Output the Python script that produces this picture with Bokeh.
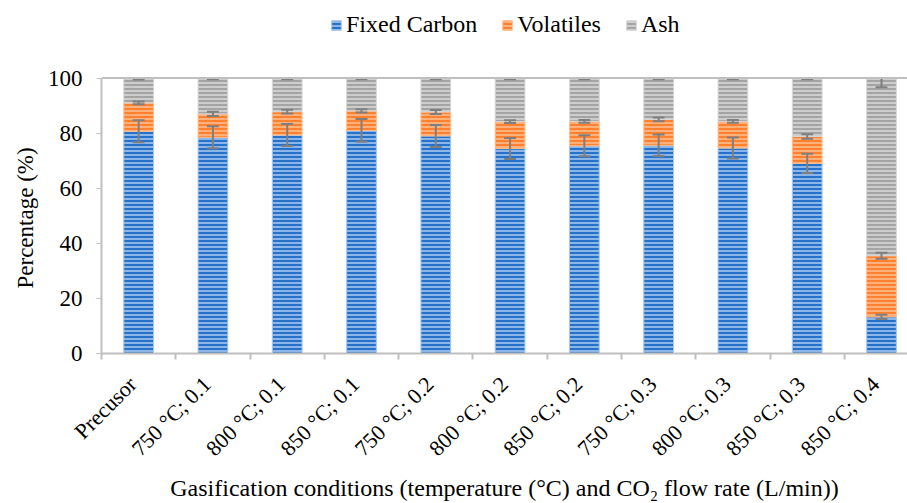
from bokeh.plotting import figure
from bokeh.models import ColumnDataSource, FixedTicker, Legend, LegendItem, Span, Range1d, Title
from bokeh.embed import file_html
from bokeh.resources import INLINE

# Proximate composition of the precursor and the gasified chars (wt.%)
conditions = ["Precusor", "750 °C; 0.1", "800 °C; 0.1", "850 °C; 0.1",
              "750 °C; 0.2", "800 °C; 0.2", "850 °C; 0.2",
              "750 °C; 0.3", "800 °C; 0.3", "850 °C; 0.3", "850 °C; 0.4"]
fixed_carbon = [80.7, 78.5, 79.3, 81.0, 79.0, 74.4, 75.4, 75.6, 74.6, 69.0, 13.3]
volatiles = [10.3, 8.5, 8.5, 7.1, 8.7, 9.8, 8.9, 9.4, 9.7, 9.8, 22.2]
ash = [9.0, 13.0, 12.2, 11.9, 12.3, 15.8, 15.7, 15.0, 15.7, 21.2, 64.5]
fixed_carbon_err = [4.0, 4.0, 4.0, 4.1, 4.0, 3.8, 3.8, 3.9, 3.8, 3.5, 0.8]
volatiles_err = [0.5, 0.8, 0.7, 0.6, 0.7, 0.5, 0.5, 0.7, 0.5, 0.8, 1.1]
ash_err = [0.5, 0.4, 0.4, 0.4, 0.4, 0.4, 0.4, 0.4, 0.4, 0.4, 3.3]
y_ticks = [0, 20, 40, 60, 80, 100]

FONT = "Liberation Serif"
AXIS_GREY = "#BFBFBF"
ERR_GREY = "#7F7F7F"
Y_MAX = 100          # top of the value axis
Y_VIEW = 126.35      # extra head-room inside the frame that holds the legend

x = list(range(len(conditions)))
fc_top = list(fixed_carbon)
vol_top = [f + v for f, v in zip(fixed_carbon, volatiles)]
ash_top = [t + a for t, a in zip(vol_top, ash)]

src = ColumnDataSource(dict(
    x=x, fc_bottom=[0] * len(x), fc_top=fc_top,
    vol_top=vol_top, ash_top=ash_top,
))

p = figure(width=907, height=503, output_backend="svg", toolbar_location=None,
           x_range=Range1d(-0.5, 10.35), y_range=Range1d(0, Y_VIEW),
           min_border_left=101, min_border_right=0, min_border_top=5,
           min_border_bottom=148, outline_line_color=None,
           background_fill_color="white", border_fill_color="white")

bar_w = 0.40
series = [
    ("Fixed Carbon", "fc_bottom", "fc_top", "#2672CB", "#A6C8EF"),
    ("Volatiles", "fc_top", "vol_top", "#FF8130", "#FFBE8E"),
    ("Ash", "vol_top", "ash_top", "#A4A4A4", "#D8D8D8"),
]
renderers = []
for name, b, t, dark, light in series:
    r = p.vbar(x="x", bottom=b, top=t, width=bar_w, source=src,
               fill_color=dark, line_color=light, line_width=1,
               hatch_pattern="horizontal_line", hatch_color=light,
               hatch_scale=4, hatch_weight=1.6)
    renderers.append((name, r))

# error bars centred on the top of every stacked segment, cut at the axis top
cap = 0.08
for tops, errs in [(fc_top, fixed_carbon_err), (vol_top, volatiles_err), (ash_top, ash_err)]:
    lo = [t - e for t, e in zip(tops, errs)]
    hi = [min(t + e, Y_MAX) for t, e in zip(tops, errs)]
    p.segment(x0=x, x1=x, y0=lo, y1=hi, line_color=ERR_GREY, line_width=2)
    p.segment(x0=[i - cap for i in x], x1=[i + cap for i in x], y0=lo, y1=lo,
              line_color=ERR_GREY, line_width=2)
    xi = [i for i, (t, e) in zip(x, zip(tops, errs)) if t + e < Y_MAX]
    yi = [t + e for t, e in zip(tops, errs) if t + e < Y_MAX]
    p.segment(x0=[i - cap for i in xi], x1=[i + cap for i in xi], y0=yi, y1=yi,
              line_color=ERR_GREY, line_width=2)

p.add_layout(Span(location=Y_MAX, dimension="width", line_color=AXIS_GREY, line_width=2))

p.xgrid.visible = False
p.ygrid.visible = False

label_shift = 0.08
xa = p.xaxis[0]
xa.ticker = FixedTicker(ticks=[i - label_shift for i in x],
                        minor_ticks=[i - 0.5 for i in range(len(x) + 1)])
xa.major_label_overrides = {i - label_shift: lab for i, lab in zip(x, conditions)}
xa.major_label_orientation = 0.785398
xa.major_tick_line_color = None
xa.minor_tick_line_color = AXIS_GREY
xa.minor_tick_line_width = 2
xa.minor_tick_in = 0
xa.minor_tick_out = 6
xa.axis_line_color = AXIS_GREY
xa.axis_line_width = 2
xa.major_label_standoff = 21
xa.axis_label = "Gasification conditions (temperature (°C) and CO\u2082 flow rate (L/min))"
xa.axis_label_standoff = 2
xa.axis_label_text_font = FONT
xa.axis_label_text_font_size = "24px"
xa.axis_label_text_font_style = "normal"
xa.axis_label_text_color = "black"
xa.major_label_text_font_size = "22px"

ya = p.yaxis[0]
ya.ticker = FixedTicker(ticks=y_ticks)
ya.bounds = (0, Y_MAX)
ya.minor_tick_line_color = None
ya.major_tick_line_color = AXIS_GREY
ya.major_tick_in = 0
ya.major_tick_out = 5
ya.axis_line_color = AXIS_GREY
ya.axis_line_width = 2
ya.major_label_standoff = 14
ya.major_label_text_font_size = "23px"

for ax in (xa, ya):
    ax.major_label_text_font = FONT
    ax.major_label_text_color = "black"

# value-axis title, centred on the 0-100 span rather than the whole frame
p.add_layout(Title(text="Percentage (%)", align="left", offset=65,
                   vertical_align="middle", standoff=12,
                   text_font=FONT, text_font_size="23px",
                   text_font_style="normal", text_color="black"), "left")

legend = Legend(items=[LegendItem(label=n, renderers=[r]) for n, r in renderers],
                orientation="horizontal", location=(229, 315),
                label_text_font=FONT, label_text_font_size="24px",
                label_text_color="black", glyph_width=12, glyph_height=12,
                label_standoff=4, spacing=24, padding=0, margin=0,
                border_line_color=None, background_fill_alpha=0)
p.add_layout(legend, "center")

open("out.html", "w").write(file_html(p, INLINE))
